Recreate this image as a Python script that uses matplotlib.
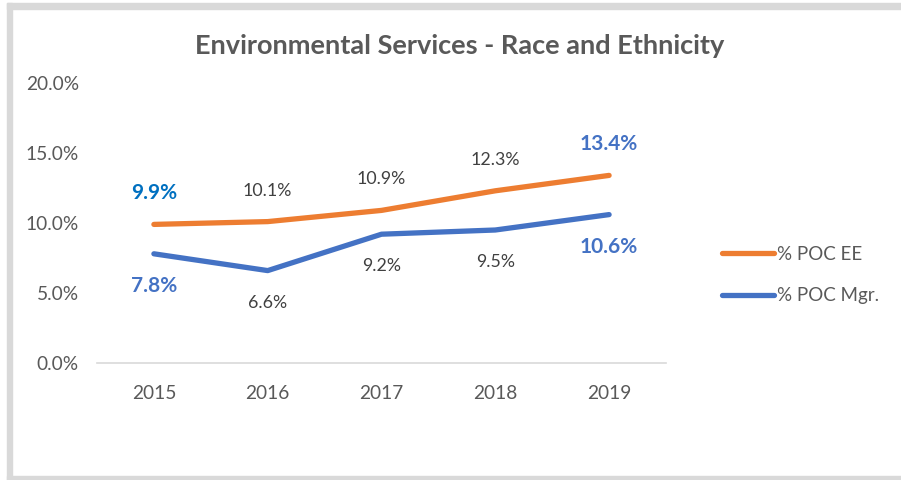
import matplotlib
matplotlib.use("Agg")
import matplotlib.pyplot as plt
from matplotlib.patches import Rectangle

years = ["2015", "2016", "2017", "2018", "2019"]
poc_ee = [9.9, 10.1, 10.9, 12.3, 13.4]
poc_mgr = [7.8, 6.6, 9.2, 9.5, 10.6]
y_ticks = [0, 5, 10, 15, 20]

plt.rcParams['font.family'] = ['Lato', 'DejaVu Sans']

W, H = 901, 480
fig = plt.figure(figsize=(W / 100, H / 100), dpi=100)
fig.patch.set_facecolor('white')

# frame
grey = '#d9d9d9'
fig.patches.append(Rectangle((7 / W, 0), 5 / W, (H - 3) / H, transform=fig.transFigure, color=grey, zorder=0))
fig.patches.append(Rectangle((7 / W, 1 - 9 / H), 1, 6 / H, transform=fig.transFigure, color=grey, zorder=0))
fig.patches.append(Rectangle((7 / W, 0), 1, 4 / H, transform=fig.transFigure, color=grey, zorder=0))

ax = fig.add_axes([97 / W, 1 - 363 / H, (666 - 97) / W, (363 - 83) / H])
x = list(range(len(years)))
orange = '#ED7D31'
blue = '#4472C4'
ax.plot(x, poc_ee, color=orange, lw=3.8, solid_capstyle='round', solid_joinstyle='round', label='% POC EE', zorder=3)
ax.plot(x, poc_mgr, color=blue, lw=3.8, solid_capstyle='round', solid_joinstyle='round', label='% POC Mgr.', zorder=3)

ax.set_xlim(-0.5, len(years) - 0.5)
ax.set_ylim(0, 20)
ax.set_yticks(y_ticks)
ax.set_yticklabels([f"{v:.1f}%" for v in y_ticks])
ax.set_xticks(x)
ax.set_xticklabels(years)
for s in ['top', 'right', 'left']:
    ax.spines[s].set_visible(False)
ax.spines['bottom'].set_color(grey)
ax.spines['bottom'].set_linewidth(1.2)
ax.tick_params(length=0, labelsize=13.8, colors='#595959')
ax.tick_params(axis='y', pad=13)
ax.tick_params(axis='x', pad=16)

n = len(years)
for i, v in enumerate(poc_ee):
    edge = i in (0, n - 1)
    col = ('#0070C0' if i == 0 else blue) if edge else '#404040'
    ax.annotate(f"{v:.1f}%", (i, v), xytext=(0, 31), textcoords='offset pixels',
                ha='center', va='center', fontsize=15 if edge else 12.8,
                fontweight='bold' if edge else 'normal', color=col)
for i, v in enumerate(poc_mgr):
    edge = i in (0, n - 1)
    col = blue if edge else '#404040'
    ax.annotate(f"{v:.1f}%", (i, v), xytext=(0, -32), textcoords='offset pixels',
                ha='center', va='center', fontsize=15 if edge else 12.8,
                fontweight='bold' if edge else 'normal', color=col)

fig.text(460 / W, 1 - 46 / H, "Environmental Services - Race and Ethnicity", ha='center', va='center',
         fontsize=19.5, fontweight='bold', color='#595959')

leg = ax.legend(loc='center left', bbox_to_anchor=(705 / W, 1 - 275 / H), bbox_transform=fig.transFigure,
                frameon=False, fontsize=13.5, labelcolor='#595959', handlelength=2.8, handletextpad=0.15,
                labelspacing=1.3)

fig.savefig('out.png', dpi=100, facecolor='white')
